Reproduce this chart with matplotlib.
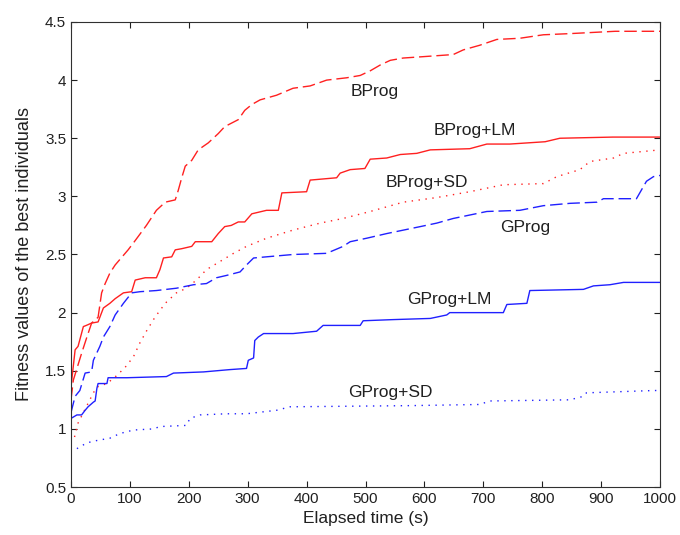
import matplotlib
matplotlib.use('Agg')
import matplotlib.pyplot as plt

# valores (tempo em s, fitness)
bprog_t = [0, 4, 18, 27, 35, 46, 52, 58, 66, 75, 97, 109, 128, 145, 160, 177, 182, 188,
           194, 205, 216, 233, 250, 261, 284, 295, 307, 321, 349, 377, 406, 434, 468, 491,
           508, 525, 542, 564, 593, 649, 666, 694, 723, 762, 802, 847, 924, 1000]
bprog_y = [1.25, 1.42, 1.65, 1.79, 1.91, 1.96, 2.17, 2.25, 2.34, 2.41, 2.54, 2.62, 2.75, 2.88,
           2.95, 2.97, 3.05, 3.16, 3.26, 3.31, 3.40, 3.46, 3.54, 3.60, 3.66, 3.74, 3.79, 3.83,
           3.87, 3.93, 3.95, 4.00, 4.02, 4.04, 4.08, 4.13, 4.17, 4.19, 4.20, 4.22, 4.26, 4.30,
           4.35, 4.36, 4.39, 4.40, 4.42, 4.42]

bproglm_t = [0, 0, 7, 12, 21, 26, 35, 46, 52, 55, 66, 75, 89, 103, 109, 126, 145, 151, 157,
             171, 177, 188, 205, 211, 239, 250, 261, 272, 284, 295, 307, 332, 352, 358, 400,
             406, 451, 457, 474, 499, 508, 536, 559, 587, 610, 677, 706, 745, 805, 830, 920, 1000]
bproglm_y = [1.16, 1.36, 1.68, 1.71, 1.88, 1.89, 1.91, 1.92, 2.00, 2.04, 2.08, 2.12, 2.17, 2.18,
             2.28, 2.30, 2.30, 2.37, 2.47, 2.48, 2.54, 2.55, 2.57, 2.61, 2.61, 2.68, 2.74, 2.75,
             2.78, 2.78, 2.85, 2.88, 2.88, 3.03, 3.04, 3.14, 3.16, 3.20, 3.23, 3.24, 3.32, 3.33,
             3.36, 3.37, 3.40, 3.41, 3.45, 3.45, 3.47, 3.50, 3.51, 3.51]

bprogsd_t = [6, 12, 32, 38, 44, 61, 78, 92, 106, 117, 128, 140, 151, 162, 179, 196, 213, 230,
             253, 276, 298, 332, 377, 423, 462, 508, 564, 621, 677, 734, 802, 825, 864, 881,
             921, 938, 1000]
bprogsd_y = [0.93, 1.05, 1.25, 1.31, 1.36, 1.39, 1.46, 1.53, 1.62, 1.74, 1.84, 1.94, 2.02, 2.09,
             2.17, 2.21, 2.28, 2.37, 2.44, 2.51, 2.57, 2.64, 2.71, 2.77, 2.81, 2.87, 2.95, 2.99,
             3.04, 3.10, 3.11, 3.17, 3.23, 3.30, 3.33, 3.37, 3.40]

gprog_t = [0, 7, 15, 24, 35, 38, 49, 55, 66, 75, 89, 103, 117, 145, 179, 208, 230, 247, 264,
           287, 298, 310, 332, 377, 434, 462, 474, 502, 536, 593, 621, 649, 706, 762, 802, 847,
           893, 904, 960, 977, 989, 1000]
gprog_y = [1.14, 1.28, 1.33, 1.48, 1.49, 1.59, 1.71, 1.79, 1.88, 1.98, 2.08, 2.17, 2.18, 2.19,
           2.21, 2.24, 2.25, 2.30, 2.32, 2.35, 2.41, 2.47, 2.48, 2.50, 2.51, 2.57, 2.61, 2.64,
           2.68, 2.74, 2.77, 2.81, 2.87, 2.88, 2.92, 2.94, 2.95, 2.98, 2.98, 3.13, 3.17, 3.18]

gproglm_t = [0, 10, 18, 24, 29, 38, 41, 44, 46, 61, 63, 95, 162, 174, 225, 270, 298, 301, 310,
             312, 318, 327, 377, 417, 428, 491, 496, 547, 610, 638, 643, 734, 740, 774, 779,
             870, 887, 915, 938, 1000]
gproglm_y = [1.09, 1.12, 1.12, 1.16, 1.19, 1.23, 1.24, 1.35, 1.39, 1.39, 1.44, 1.44, 1.45, 1.48,
             1.49, 1.51, 1.52, 1.59, 1.61, 1.76, 1.79, 1.82, 1.82, 1.84, 1.89, 1.89, 1.93, 1.94,
             1.95, 1.98, 2.00, 2.00, 2.07, 2.08, 2.19, 2.20, 2.23, 2.24, 2.26, 2.26]

gprogsd_t = [10, 27, 44, 66, 83, 106, 140, 151, 196, 202, 219, 264, 298, 349, 372, 576, 694,
             711, 847, 870, 875, 989, 1000]
gprogsd_y = [0.83, 0.88, 0.90, 0.92, 0.96, 0.99, 1.00, 1.02, 1.03, 1.09, 1.12, 1.13, 1.13, 1.16,
             1.19, 1.20, 1.21, 1.24, 1.25, 1.28, 1.31, 1.33, 1.33]

rotulos = ['BProg', 'BProg+LM', 'BProg+SD', 'GProg', 'GProg+LM', 'GProg+SD']
rot_x = [516, 686, 604, 771, 643, 542]
rot_y = [3.90, 3.57, 3.12, 2.73, 2.11, 1.31]

plt.rcParams['font.family'] = ['Liberation Sans', 'DejaVu Sans']

fig = plt.figure(figsize=(6.8, 5.35), dpi=100)
ax = fig.add_axes([0.1044, 0.0897, 0.8662, 0.8692])

vermelho = '#ff2020'
azul = '#2020ff'
ax.plot(bprog_t, bprog_y, color=vermelho, lw=1, dashes=(9, 3.5))
ax.plot(bproglm_t, bproglm_y, color=vermelho, lw=1)
ax.plot(bprogsd_t, bprogsd_y, color=vermelho, lw=1, dashes=(1, 4))
ax.plot(gprog_t, gprog_y, color=azul, lw=1, dashes=(9, 3.5))
ax.plot(gproglm_t, gproglm_y, color=azul, lw=1)
ax.plot(gprogsd_t, gprogsd_y, color=azul, lw=1, dashes=(1, 4))

for txt, x, y in zip(rotulos, rot_x, rot_y):
    ax.text(x, y, txt, fontsize=12.5, ha='center', va='center', color='#202020')

ax.set_xlim(0, 1000)
ax.set_ylim(0.5, 4.5)
ax.set_xticks(range(0, 1001, 100))
ax.set_yticks([0.5, 1, 1.5, 2, 2.5, 3, 3.5, 4, 4.5])
ax.set_yticklabels(['0.5', '1', '1.5', '2', '2.5', '3', '3.5', '4', '4.5'])
ax.tick_params(direction='in', top=True, right=True, length=4, labelsize=11, colors='#202020')
for s in ax.spines.values():
    s.set_color('#303030')
ax.set_xlabel('Elapsed time (s)', fontsize=12.5, color='#202020', labelpad=4)
ax.set_ylabel('Fitness values of the best individuals', fontsize=13, color='#202020', labelpad=9)

fig.savefig('out.png', dpi=100)
